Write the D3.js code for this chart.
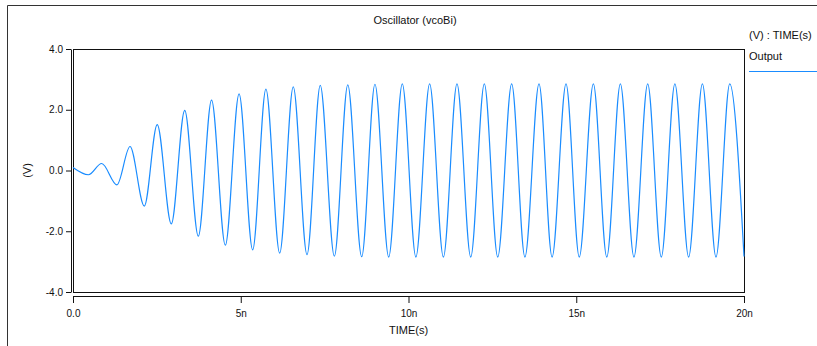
<!DOCTYPE html>
<html>
<head>
<meta charset="utf-8">
<script src="https://cdn.jsdelivr.net/npm/d3@7"></script>
<style>
  body { margin: 0; background: #fff; }
  svg { display: block; font-family: "Liberation Sans", Arial, sans-serif; }
</style>
</head>
<body>
<div class="root"></div>
<script>
// Extrema of the waveform (time in ns, output in V)
var timeNs = [0.0, 0.46, 0.855, 1.31, 1.70, 2.125, 2.51, 2.93, 3.33, 3.735,
  4.13, 4.54, 4.95, 5.355, 5.75, 6.16, 6.565, 6.975, 7.37, 7.79,
  8.19, 8.605, 9.00, 9.41, 9.815, 10.22, 10.63, 11.04, 11.445, 11.855,
  12.26, 12.66, 13.075, 13.47, 13.89, 14.28, 14.695, 15.09, 15.51, 15.91,
  16.315, 16.72, 17.13, 17.535, 17.94, 18.35, 18.76, 19.165, 19.575, 20.0];
var volts = [0.10, -0.14, 0.23, -0.47, 0.79, -1.17, 1.51, -1.76, 1.98, -2.16,
  2.32, -2.46, 2.52, -2.61, 2.68, -2.72, 2.75, -2.77, 2.80, -2.82,
  2.82, -2.84, 2.84, -2.85, 2.85, -2.85, 2.85, -2.85, 2.85, -2.85,
  2.85, -2.85, 2.85, -2.85, 2.85, -2.85, 2.85, -2.85, 2.85, -2.85,
  2.85, -2.85, 2.85, -2.85, 2.85, -2.85, 2.85, -2.85, 2.85, -2.83];

var xTicks = [0, 5, 10, 15, 20];
var xTickLabels = ["0.0", "5n", "10n", "15n", "20n"];
var yTicks = [4, 2, 0, -2, -4];
var yTickLabels = ["4.0", "2.0", "0.0", "-2.0", "-4.0"];

var W = 817, H = 346;
var plot = { left: 73, right: 744, top: 49, bottom: 292 };
var lineColor = "#1a8cff";

var svg = d3.select(".root").append("svg")
    .attr("width", W)
    .attr("height", H);

// outer frame (top and left edge only)
svg.append("path")
    .attr("d", "M7.5," + H + "V5.5H" + W)
    .attr("fill", "none")
    .attr("stroke", "#333")
    .attr("stroke-width", 1);

var xScale = d3.scaleLinear().domain([0, 20]).range([plot.left, plot.right]);
var yScale = d3.scaleLinear().domain([-4, 4]).range([plot.bottom, plot.top]);

// plot box
svg.append("rect")
    .attr("x", plot.left + 0.5)
    .attr("y", plot.top + 0.5)
    .attr("width", plot.right - plot.left)
    .attr("height", plot.bottom - plot.top)
    .attr("fill", "none")
    .attr("stroke", "#111")
    .attr("stroke-width", 1);

// the waveform
var data = timeNs.map(function (t, i) { return { t: t, v: volts[i] }; });

var line = d3.line()
    .x(function (d) { return xScale(d.t); })
    .y(function (d) { return yScale(d.v); })
    .curve(d3.curveMonotoneX);

svg.append("path").datum(data)
    .attr("fill", "none")
    .attr("stroke", lineColor)
    .attr("stroke-width", 1.2)
    .attr("stroke-linejoin", "round")
    .attr("d", line);

// Y axis, a little left of the box
var yAxis = d3.axisLeft(yScale)
    .tickValues(yTicks)
    .tickFormat(function (d, i) { return yTickLabels[i]; })
    .tickSizeInner(5)
    .tickSizeOuter(0)
    .tickPadding(3);

svg.append("g")
    .attr("transform", "translate(" + (plot.left - 2) + ",0)")
    .attr("font-family", null)
    .attr("font-size", 11)
    .call(yAxis)
    .call(function (g) { g.selectAll("line, path").attr("stroke", "#111"); })
    .call(function (g) { g.selectAll("text").attr("fill", "#111"); });

// X axis, a little below the box
var xAxis = d3.axisBottom(xScale)
    .tickValues(xTicks)
    .tickFormat(function (d, i) { return xTickLabels[i]; })
    .tickSizeInner(7)
    .tickSizeOuter(0)
    .tickPadding(7);

svg.append("g")
    .attr("transform", "translate(0," + (plot.bottom + 4) + ")")
    .attr("font-family", null)
    .attr("font-size", 11)
    .call(xAxis)
    .call(function (g) { g.selectAll("line, path").attr("stroke", "#111"); })
    .call(function (g) { g.selectAll("text").attr("fill", "#111"); });

// titles
svg.append("text")
    .attr("font-size", 11)
    .attr("text-anchor", "middle")
    .attr("x", 415)
    .attr("y", 24)
    .attr("fill", "#111")
    .text("Oscillator (vcoBi)");

svg.append("text")
    .attr("font-size", 11)
    .attr("text-anchor", "middle")
    .attr("x", (plot.left + plot.right) / 2)
    .attr("y", 334)
    .attr("fill", "#111")
    .text("TIME(s)");

svg.append("text")
    .attr("font-size", 11)
    .attr("text-anchor", "middle")
    .attr("transform", "translate(31," + yScale(0) + ") rotate(-90)")
    .attr("fill", "#111")
    .text("(V)");

// legend
svg.append("text")
    .attr("font-size", 11)
    .attr("x", 749)
    .attr("y", 39)
    .attr("fill", "#111")
    .text("(V) : TIME(s)");

svg.append("text")
    .attr("font-size", 11)
    .attr("x", 749)
    .attr("y", 60)
    .attr("fill", "#111")
    .text("Output");

svg.append("line")
    .attr("x1", 749).attr("x2", W)
    .attr("y1", 71.5).attr("y2", 71.5)
    .attr("stroke", lineColor)
    .attr("stroke-width", 1.2);
</script>
</body>
</html>
